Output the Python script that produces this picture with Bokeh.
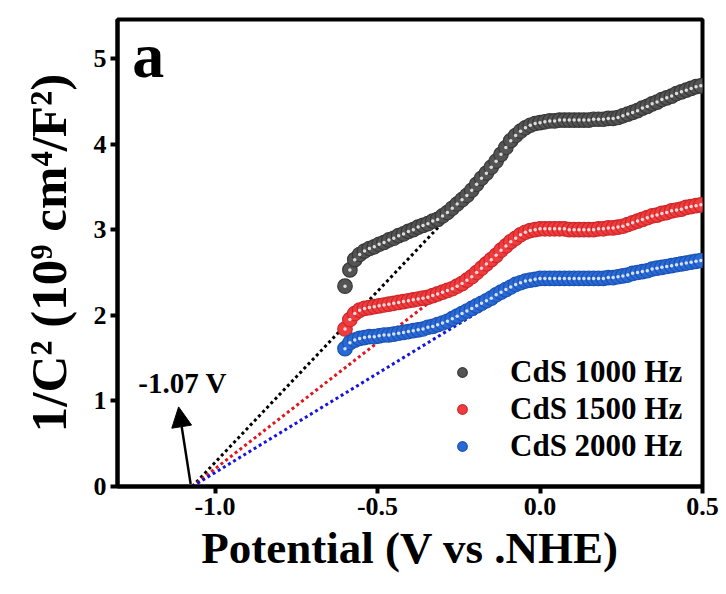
from bokeh.plotting import figure
from bokeh.models import Range1d, Label, Arrow, NormalHead, Legend, LegendItem, FixedTicker, ColumnDataSource
from bokeh.embed import file_html
from bokeh.resources import INLINE

# ---------------- data ----------------
potential = [-0.600, -0.585, -0.570, -0.555, -0.540, -0.525, -0.510, -0.495, -0.480, -0.465,
             -0.450, -0.435, -0.420, -0.405, -0.390, -0.375, -0.360, -0.345, -0.330, -0.315,
             -0.300, -0.285, -0.270, -0.255, -0.240, -0.225, -0.210, -0.195, -0.180, -0.165,
             -0.150, -0.135, -0.120, -0.105, -0.090, -0.075, -0.060, -0.045, -0.030, -0.015,
             0.000, 0.015, 0.030, 0.045, 0.060, 0.075, 0.090, 0.105, 0.120, 0.135,
             0.150, 0.165, 0.180, 0.195, 0.210, 0.225, 0.240, 0.255, 0.270, 0.285,
             0.300, 0.315, 0.330, 0.345, 0.360, 0.375, 0.390, 0.405, 0.420, 0.435,
             0.450, 0.465, 0.480, 0.495]

cds_1000 = [2.34, 2.53, 2.65, 2.71, 2.75, 2.78, 2.80, 2.83, 2.85, 2.88,
            2.90, 2.93, 2.95, 2.98, 3.00, 3.03, 3.05, 3.07, 3.10, 3.12,
            3.16, 3.20, 3.25, 3.30, 3.35, 3.40, 3.46, 3.53, 3.60, 3.66,
            3.73, 3.80, 3.88, 3.96, 4.04, 4.10, 4.15, 4.19, 4.22, 4.24,
            4.25, 4.26, 4.27, 4.27, 4.28, 4.28, 4.28, 4.28, 4.28, 4.28,
            4.28, 4.29, 4.29, 4.29, 4.30, 4.30, 4.31, 4.33, 4.35, 4.37,
            4.39, 4.42, 4.44, 4.47, 4.49, 4.52, 4.54, 4.56, 4.59, 4.61,
            4.63, 4.65, 4.67, 4.68]

cds_1500 = [1.84, 1.95, 2.02, 2.06, 2.08, 2.09, 2.10, 2.11, 2.12, 2.13,
            2.14, 2.15, 2.16, 2.17, 2.18, 2.19, 2.20, 2.21, 2.23, 2.25,
            2.27, 2.29, 2.31, 2.34, 2.37, 2.41, 2.45, 2.50, 2.55, 2.60,
            2.65, 2.70, 2.76, 2.81, 2.86, 2.90, 2.94, 2.97, 2.99, 3.00,
            3.01, 3.01, 3.01, 3.01, 3.01, 3.01, 3.00, 3.00, 3.00, 3.00,
            3.00, 3.00, 3.01, 3.01, 3.02, 3.02, 3.03, 3.04, 3.06, 3.08,
            3.10, 3.12, 3.14, 3.16, 3.17, 3.19, 3.20, 3.22, 3.23, 3.24,
            3.26, 3.27, 3.28, 3.29]

cds_2000 = [1.61, 1.68, 1.71, 1.73, 1.74, 1.75, 1.75, 1.76, 1.77, 1.77,
            1.78, 1.79, 1.80, 1.81, 1.82, 1.83, 1.84, 1.86, 1.87, 1.89,
            1.91, 1.93, 1.96, 1.99, 2.02, 2.05, 2.08, 2.11, 2.14, 2.17,
            2.20, 2.24, 2.27, 2.30, 2.33, 2.36, 2.38, 2.40, 2.41, 2.42,
            2.43, 2.43, 2.43, 2.43, 2.43, 2.43, 2.43, 2.43, 2.43, 2.43,
            2.43, 2.43, 2.43, 2.43, 2.44, 2.44, 2.45, 2.46, 2.47, 2.49,
            2.50, 2.51, 2.52, 2.54, 2.55, 2.56, 2.57, 2.58, 2.59, 2.60,
            2.61, 2.62, 2.63, 2.64]

series_labels = ["CdS 1000 Hz", "CdS 1500 Hz", "CdS 2000 Hz"]

# linear (Mott-Schottky) fits: x-intercept and end point of each dotted line
fit_x0 = -1.07
fit_end_x = [-0.14, -0.09, -0.09]
fit_end_y = [3.72, 2.89, 2.27]

x_ticks = [-1.0, -0.5, 0.0, 0.5]
y_ticks = [0, 1, 2, 3, 4, 5]

# annotation arrow (start, end) in data units
arrow_x = [-1.075, -1.112]
arrow_y = [0.03, 0.93]

# ---------------- styling ----------------
FONT = "Liberation Serif"
fill_colors = ["#545454", "#ef3d3f", "#2a6ad6"]
edge_colors = ["#383838", "#d02628", "#1a52b5"]
fit_colors = ["#000000", "#e3141c", "#1414e0"]

p = figure(width=726, height=594, output_backend="svg", toolbar_location=None,
           x_range=Range1d(-1.3, 0.5), y_range=Range1d(0, 5.455),
           min_border_left=117, min_border_right=24, min_border_top=19, min_border_bottom=108)

p.background_fill_color = "white"
p.border_fill_color = "white"
p.grid.visible = False
p.outline_line_color = "black"
p.outline_line_width = 4
p.outline_line_alpha = 1

for ax in (p.xaxis[0], p.yaxis[0]):
    ax.axis_line_width = 4
    ax.major_tick_line_width = 4
    ax.major_tick_out = 7
    ax.major_tick_in = 0
    ax.minor_tick_line_color = None
    ax.major_label_text_font = FONT
    ax.major_label_text_font_style = "bold"
    ax.major_label_text_font_size = "26px"
    ax.major_label_text_color = "black"
    ax.axis_label_text_font = FONT
    ax.axis_label_text_font_style = "bold"
    ax.axis_label_text_color = "black"
    ax.major_label_standoff = 4

p.xaxis[0].ticker = FixedTicker(ticks=x_ticks)
p.yaxis[0].ticker = FixedTicker(ticks=y_ticks)
p.xaxis[0].major_label_overrides = {t: f"{t:.1f}" for t in x_ticks}
p.xaxis[0].axis_label = "Potential (V vs .NHE)"
p.xaxis[0].axis_label_text_font_size = "45px"
p.xaxis[0].axis_label_standoff = 5
p.yaxis[0].axis_label = "1/C\u00b2 (10\u2079 cm\u2074/F\u00b2)"
p.yaxis[0].axis_label_text_font_size = "51px"
p.yaxis[0].axis_label_standoff = 14

# dotted fit lines
for ex, ey, c in zip(fit_end_x, fit_end_y, fit_colors):
    p.line([fit_x0, ex], [0, ey], line_color=c, line_width=3, line_dash="3 3")

# data series
items = []
for ys, fc, ec, lab in zip([cds_1000, cds_1500, cds_2000], fill_colors, edge_colors, series_labels):
    src = ColumnDataSource(dict(x=potential, y=ys))
    r = p.scatter("x", "y", source=src, size=14.5, fill_color=fc, line_color=ec, line_width=1.2)
    p.scatter("x", "y", source=src, size=3.5, fill_color="white", fill_alpha=0.8, line_color=None)
    items.append(LegendItem(label=lab, renderers=[r]))

legend = Legend(items=items, location=(333, 22), glyph_width=24, glyph_height=24,
                label_standoff=36, spacing=1, padding=0, margin=0,
                border_line_color=None, background_fill_alpha=0,
                label_text_font=FONT, label_text_font_style="bold",
                label_text_font_size="31px", label_text_color="black")
p.add_layout(legend)

# arrow and annotation
p.add_layout(Arrow(end=NormalHead(size=20, fill_color="black", line_color="black", line_width=1),
                   x_start=arrow_x[0], y_start=arrow_y[0], x_end=arrow_x[1], y_end=arrow_y[1],
                   line_width=2.5, line_color="black"))
p.add_layout(Label(x=-1.236, y=1.21, text="-1.07 V", text_font=FONT, text_font_style="bold",
                   text_font_size="29px", text_color="black", text_baseline="alphabetic"))
p.add_layout(Label(x=-1.255, y=5.04, text="a", text_font=FONT, text_font_style="bold",
                   text_font_size="64px", text_color="black", text_baseline="alphabetic"))

open("out.html", "w").write(file_html(p, INLINE))
